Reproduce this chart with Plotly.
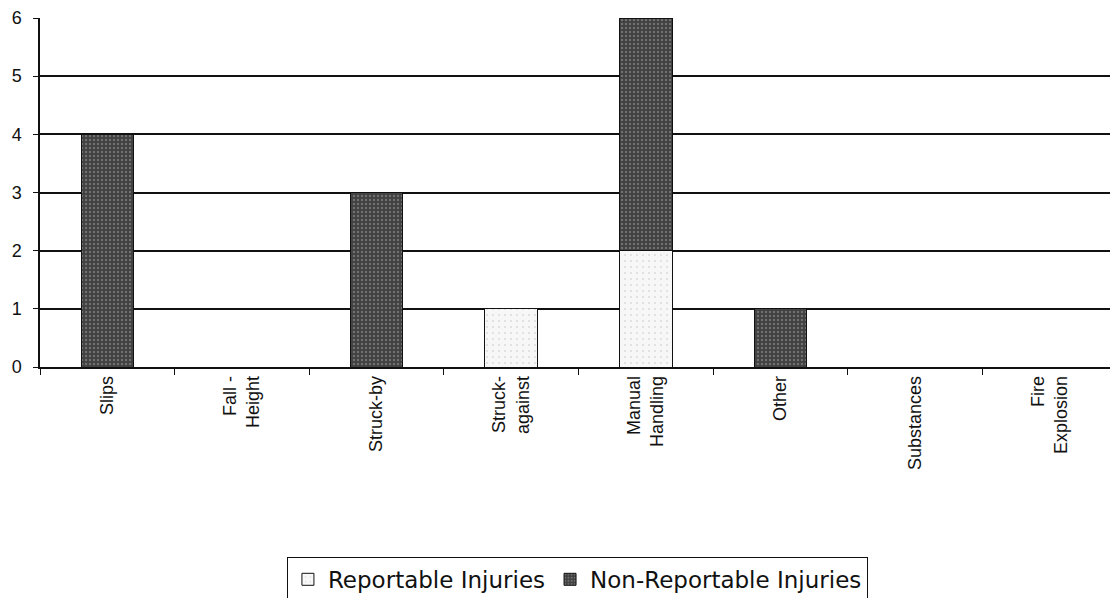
import plotly.graph_objects as go

categories = ["Slips", "Fall -<br>Height", "Struck-by", "Struck-<br>against",
              "Manual<br>Handling", "Other", "Substances", "Fire<br>Explosion"]
reportable = [0, 0, 0, 1, 2, 0, 0, 0]
non_reportable = [4, 0, 3, 0, 4, 1, 0, 0]
y_ticks = [0, 1, 2, 3, 4, 5, 6]

fig = go.Figure()
fig.add_trace(go.Bar(
    x=categories, y=reportable, name="Reportable Injuries",
    marker=dict(color="#f7f7f7", line=dict(color="#111", width=1),
                pattern=dict(shape=".", fgcolor="#bbbbbb", bgcolor="#f7f7f7", size=6, solidity=0.08)),
))
fig.add_trace(go.Bar(
    x=categories, y=non_reportable, name="Non-Reportable Injuries",
    marker=dict(color="#4a4a4a", line=dict(color="#111", width=1),
                pattern=dict(shape=".", fgcolor="#a0a0a0", bgcolor="#404040", size=4, solidity=0.3)),
))

fig.update_layout(
    barmode="stack",
    bargap=0.61,
    width=1110, height=590,
    margin=dict(l=32, r=1, t=10, b=231, autoexpand=False),
    plot_bgcolor="white", paper_bgcolor="white",
    font=dict(family="Liberation Sans, Arial, sans-serif", size=18, color="#111"),
    showlegend=True,
    legend=dict(orientation="h", x=0.499, xanchor="center", y=-0.544, yanchor="top",
                bordercolor="#111", borderwidth=1,
                font=dict(family="DejaVu Sans, sans-serif", size=23),
                traceorder="normal"),
    xaxis=dict(showline=True, linecolor="#111", linewidth=1.5, ticks="outside",
               tickson="boundaries", ticklen=6, tickcolor="#111", tickangle=-90,
               showgrid=False, mirror=False, automargin=False,
               tickfont=dict(size=18)),
    yaxis=dict(range=[0, 6], tickvals=y_ticks, showline=True, linecolor="#111",
               linewidth=1.5, ticks="outside", ticklen=5, tickcolor="#111",
               showgrid=True, gridcolor="#111", gridwidth=1.8, zeroline=False,
               automargin=False, ticklabelstandoff=8, tickfont=dict(size=18)),
)
fig.add_shape(type="line", xref="paper", yref="paper", x0=1, x1=1, y0=0, y1=1,
              line=dict(color="#888", width=1, dash="dot"))

fig.write_html("out.html")
